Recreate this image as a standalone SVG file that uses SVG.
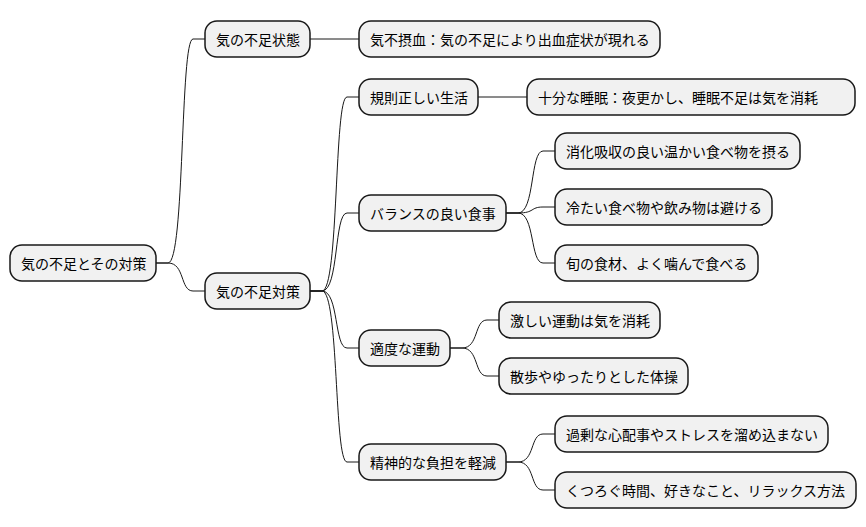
<svg xmlns="http://www.w3.org/2000/svg" width="866" height="527" viewBox="0 0 866 527">
<style>
.n rect{fill:#f1f1f1;stroke:#181818;stroke-width:1.5}
.n text{font-family:"Noto Sans CJK JP","Noto Sans",sans-serif;font-size:14px;fill:#000;dominant-baseline:central}
#edges path{fill:none;stroke:#181818;stroke-width:1}
</style>
<rect width="866" height="527" fill="#fff"/>
<g id="edges">
<path d="M156 263 H168 C185 263 180 39 193 39 H205"/>
<path d="M156 263 H168 C185 263 180 291 193 291 H205"/>
<path d="M310 39 H359"/>
<path d="M310 291 H322 C339 291 334 97 347 97 H359"/>
<path d="M310 291 H322 C339 291 334 213 347 213 H359"/>
<path d="M310 291 H322 C339 291 334 348 347 348 H359"/>
<path d="M310 291 H322 C339 291 334 462 347 462 H359"/>
<path d="M478 97 H527"/>
<path d="M506 213 H518 C535 213 530 151 543 151 H555"/>
<path d="M506 213 H518 C535 213 530 207 543 207 H555"/>
<path d="M506 213 H518 C535 213 530 263 543 263 H555"/>
<path d="M450 348 H462 C479 348 474 320 487 320 H499"/>
<path d="M450 348 H462 C479 348 474 376 487 376 H499"/>
<path d="M506 462 H518 C535 462 530 434 543 434 H555"/>
<path d="M506 462 H518 C535 462 530 490 543 490 H555"/>
</g>
<g id="root" class="n"><rect x="10" y="245" width="146" height="36" rx="12"/><text x="21" y="263">気の不足とその対策</text></g>
<g id="n1" class="n"><rect x="205" y="21" width="105" height="36" rx="12"/><text x="216" y="39">気の不足状態</text></g>
<g id="n1a" class="n"><rect x="359" y="21" width="301" height="36" rx="12"/><text x="370" y="39">気不摂血：気の不足により出血症状が現れる</text></g>
<g id="n2" class="n"><rect x="205" y="273" width="105" height="36" rx="12"/><text x="216" y="291">気の不足対策</text></g>
<g id="n2a" class="n"><rect x="359" y="79" width="119" height="36" rx="12"/><text x="370" y="97">規則正しい生活</text></g>
<g id="n2a1" class="n"><rect x="527" y="79" width="328" height="36" rx="12"/><text x="538" y="97">十分な睡眠：夜更かし、睡眠不足は気を消耗</text></g>
<g id="n2b" class="n"><rect x="359" y="195" width="147" height="36" rx="12"/><text x="370" y="213">バランスの良い食事</text></g>
<g id="n2b1" class="n"><rect x="555" y="133" width="245" height="36" rx="12"/><text x="566" y="151">消化吸収の良い温かい食べ物を摂る</text></g>
<g id="n2b2" class="n"><rect x="555" y="189" width="217" height="36" rx="12"/><text x="566" y="207">冷たい食べ物や飲み物は避ける</text></g>
<g id="n2b3" class="n"><rect x="555" y="245" width="203" height="36" rx="12"/><text x="566" y="263">旬の食材、よく噛んで食べる</text></g>
<g id="n2c" class="n"><rect x="359" y="330" width="91" height="36" rx="12"/><text x="370" y="348">適度な運動</text></g>
<g id="n2c1" class="n"><rect x="499" y="302" width="161" height="36" rx="12"/><text x="510" y="320">激しい運動は気を消耗</text></g>
<g id="n2c2" class="n"><rect x="499" y="358" width="189" height="36" rx="12"/><text x="510" y="376">散歩やゆったりとした体操</text></g>
<g id="n2d" class="n"><rect x="359" y="444" width="147" height="36" rx="12"/><text x="370" y="462">精神的な負担を軽減</text></g>
<g id="n2d1" class="n"><rect x="555" y="416" width="273" height="36" rx="12"/><text x="566" y="434">過剰な心配事やストレスを溜め込まない</text></g>
<g id="n2d2" class="n"><rect x="555" y="472" width="301" height="36" rx="12"/><text x="566" y="490">くつろぐ時間、好きなこと、リラックス方法</text></g>
</svg>
